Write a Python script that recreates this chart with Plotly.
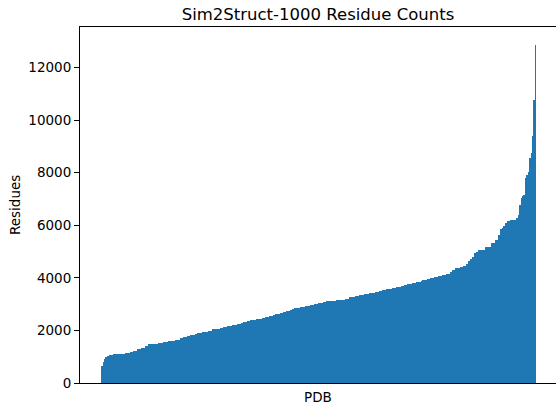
import plotly.graph_objects as go

# Sorted residue counts, read off the reference as steps:
# each bar covers PDB ranks (previous rank_end, rank_end]
rank_end = [2, 5, 7, 9, 14, 18, 28, 37, 55, 67, 74, 83, 92, 101, 108, 120, 131, 143, 154, 170,
            182, 189, 198, 205, 216, 221, 232, 246, 255, 267, 274, 280, 290, 301, 313, 324, 326, 336, 343, 356,
            370, 377, 386, 395, 400, 411, 418, 425, 434, 439, 444, 457, 469, 480, 490, 499, 510, 517, 540, 561,
            570, 584, 593, 605, 616, 630, 639, 646, 655, 669, 678, 690, 697, 703, 715, 724, 736, 738, 749, 756,
            766, 775, 784, 793, 802, 807, 814, 825, 832, 839, 844, 848, 853, 858, 862, 867, 883, 897, 906, 913,
            917, 922, 926, 929, 933, 940, 952, 956, 959, 961, 963, 966, 968, 972, 975, 977, 979, 982, 984, 986,
            989, 991, 993, 995, 998, 1000]
residues = [521, 648, 800, 914, 978, 1029, 1067, 1092, 1118, 1156, 1194, 1232, 1283, 1321, 1400, 1473, 1498, 1537, 1575, 1600,
            1651, 1702, 1740, 1790, 1829, 1870, 1917, 1956, 1994, 2045, 2070, 2108, 2140, 2171, 2210, 2248, 2290, 2337, 2370, 2400,
            2438, 2489, 2527, 2552, 2590, 2629, 2667, 2705, 2743, 2781, 2832, 2870, 2895, 2933, 2971, 3010, 3048, 3086, 3124, 3162,
            3200, 3276, 3314, 3352, 3390, 3429, 3467, 3505, 3543, 3581, 3619, 3657, 3695, 3733, 3771, 3810, 3848, 3886, 3924, 3962,
            4000, 4025, 4076, 4102, 4152, 4216, 4305, 4381, 4432, 4470, 4521, 4660, 4736, 4813, 4940, 5003, 5067, 5156, 5322, 5448,
            5638, 5854, 5900, 5956, 6083, 6146, 6184, 6210, 6273, 6400, 6590, 6781, 7035, 7098, 7162, 7200, 7797, 7924, 8013, 8305,
            8560, 8750, 9194, 9410, 10756, 12876]
y_ticks = [0, 2000, 4000, 6000, 8000, 10000, 12000]

starts = [0] + rank_end[:-1]
centers = [(a + b) / 2 for a, b in zip(starts, rank_end)]
widths = [b - a for a, b in zip(starts, rank_end)]

fig = go.Figure(go.Bar(x=centers, y=residues, width=widths,
                       marker=dict(color="#1f77b4", line=dict(width=0))))

font = "DejaVu Sans, sans-serif"
fig.update_layout(
    width=556, height=404,
    margin=dict(l=80, r=0, t=27, b=21, autoexpand=False),
    paper_bgcolor="white", plot_bgcolor="white",
    bargap=0, showlegend=False,
    font=dict(family=font, size=13, color="black"),
    title=dict(text="Sim2Struct-1000 Residue Counts", xref="paper", x=0.5, xanchor="center",
               y=1 - 14 / 404, yanchor="middle", font=dict(size=16.5, family=font)),
)
fig.update_xaxes(range=[-48.3, 1046], showticklabels=False, ticks="", showgrid=False,
                 zeroline=False, showline=True, linecolor="black", linewidth=1, mirror=True)
fig.update_yaxes(range=[0, 13545], tickvals=y_ticks, ticktext=[str(v) for v in y_ticks],
                 ticks="outside", ticklen=5, tickwidth=1, tickcolor="black",
                 showgrid=False, zeroline=False, showline=True, linecolor="black", linewidth=1,
                 tickfont=dict(size=13.5, family=font))
fig.add_annotation(text="PDB", xref="paper", yref="paper", x=0.5, y=-14 / 356,
                   showarrow=False, font=dict(size=13.5, family=font),
                   xanchor="center", yanchor="middle")
fig.add_annotation(text="Residues", xref="paper", yref="paper", x=-65 / 476, y=0.5,
                   showarrow=False, textangle=-90, font=dict(size=13.5, family=font),
                   xanchor="center", yanchor="middle")

fig.write_html("out.html", config={"displayModeBar": False},
               post_script="document.body.style.margin='0';")
